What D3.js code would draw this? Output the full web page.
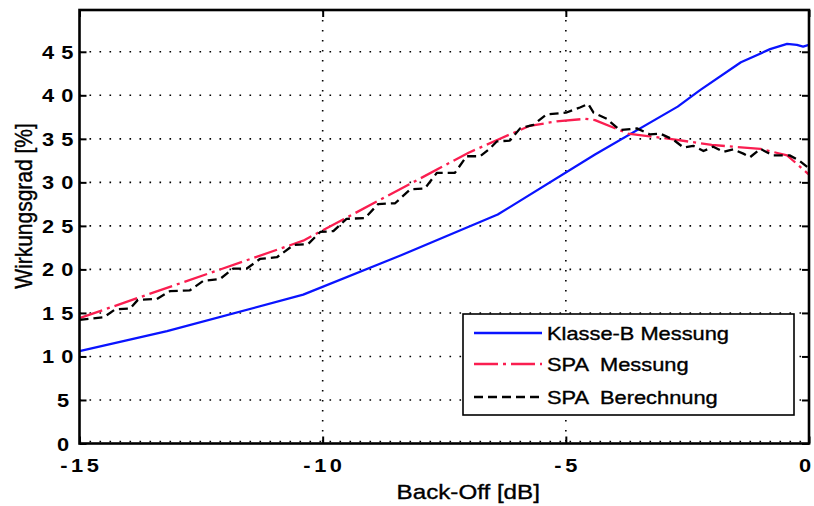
<!DOCTYPE html>
<html>
<head>
<meta charset="utf-8">
<script src="https://cdn.jsdelivr.net/npm/d3@7"></script>
<style>
  html, body { margin: 0; padding: 0; background: #fff; }
  svg { display: block; }
</style>
</head>
<body>
<svg id="chart" width="814" height="506"></svg>
<script>
// Wirkungsgrad über Back-Off: Klasse-B vs. SPA (Messung / Berechnung)
const xTicks = [-15, -10, -5, 0];
const yTicks = [0, 5, 10, 15, 20, 25, 30, 35, 40, 45];

const klasseBX = [-15, -13.2, -10.4, -8.4, -6.4, -4.4, -2.7, -2.24, -1.4, -0.8, -0.45, -0.25, -0.12, 0];
const klasseBY = [10.6, 12.9, 17.1, 21.6, 26.3, 33.2, 38.7, 40.6, 43.8, 45.3, 45.9, 45.8, 45.6, 45.8];

const spaMessX = [-15, -10.4, -7.0, -6.4, -5.74, -5.19, -4.6, -4.4, -3.72, -2.86, -2.0, -1.0, -0.45, 0];
const spaMessY = [14.4, 23.3, 33.4, 34.9, 36.5, 37.0, 37.3, 37.15, 35.6, 35.0, 34.3, 33.85, 33.1, 30.9];

const spaBerX = [-15, -14.5, -14.27, -13.96, -13.8, -13.41, -13.14, -12.73, -12.45, -12.11,
  -11.84, -11.56, -11.29, -10.94, -10.6, -10.3, -10.05, -9.78, -9.51, -9.13,
  -8.86, -8.51, -8.2, -7.9, -7.65, -7.28, -7.04, -6.76, -6.56, -6.42,
  -6.15, -5.94, -5.67, -5.4, -5.0, -4.71, -4.54, -4.43, -4.16, -3.89,
  -3.54, -3.27, -3.06, -2.79, -2.58, -2.38, -2.17, -1.97, -1.76, -1.56,
  -1.35, -1.21, -1.0, -0.75, -0.4, -0.2, 0];
const spaBerY = [14.2, 14.5, 15.4, 15.5, 16.5, 16.6, 17.5, 17.6, 18.7, 18.9,
  20.1, 20.1, 21.2, 21.4, 22.8, 22.9, 24.3, 24.4, 25.8, 25.9,
  27.5, 27.6, 29.2, 29.3, 31.1, 31.1, 33.0, 33.0, 33.9, 34.7,
  34.8, 36.2, 36.6, 37.8, 38.0, 38.6, 39.0, 38.0, 37.3, 36.0,
  36.2, 35.5, 35.6, 34.9, 34.0, 34.2, 33.6, 34.1, 33.5, 33.8,
  33.3, 32.9, 33.85, 33.1, 33.1, 32.5, 31.6];

const seriesNames = ["Klasse-B Messung", "SPA  Messung", "SPA  Berechnung"];
const xLabel = "Back-Off [dB]";
const yLabel = "Wirkungsgrad [%]";

const svg = d3.select("#chart");
const pLeft = 79.5, pRight = 809, pTop = 10, pBottom = 443.5;
const x = d3.scaleLinear().domain([-15, 0]).range([pLeft, pRight]);
const y = d3.scaleLinear().domain([0, 49.8]).range([pBottom, pTop]);
const stretch = 1.18;   // the figure's fonts are drawn horizontally widened
const font = "'Liberation Sans', Arial, Helvetica, sans-serif";

const zip = (xs, ys) => xs.map((v, i) => [v, ys[i]]);
const styles = [
  { color: "#0a14ff", dash: null },
  { color: "#fa1e50", dash: "24,5,3,5" },
  { color: "#000000", dash: "9,5" }
];
const series = [zip(klasseBX, klasseBY), zip(spaMessX, spaMessY), zip(spaBerX, spaBerY)];

// dotted grid
const grid = svg.append("g").attr("stroke", "#000").attr("stroke-width", 1.6)
  .attr("stroke-dasharray", "1.6,8.4");
grid.selectAll("line.h").data(yTicks).join("line").attr("class", "h")
  .attr("x1", pLeft).attr("x2", pRight)
  .attr("y1", d => y(d) - (d === 0 ? 2 : 0)).attr("y2", d => y(d) - (d === 0 ? 2 : 0));
grid.selectAll("line.v").data(xTicks.filter(d => d > -15 && d < 0)).join("line").attr("class", "v")
  .attr("y1", pTop).attr("y2", pBottom)
  .attr("x1", d => x(d)).attr("x2", d => x(d));

// data lines
svg.append("clipPath").attr("id", "plotclip").append("rect")
  .attr("x", pLeft).attr("y", pTop).attr("width", pRight - pLeft).attr("height", pBottom - pTop);
const line = d3.line().x(d => x(d[0])).y(d => y(d[1]));
const lines = svg.append("g").attr("clip-path", "url(#plotclip)");
series.forEach((s, i) => {
  lines.append("path").datum(s).attr("d", line)
    .attr("fill", "none").attr("stroke", styles[i].color).attr("stroke-width", 2.3)
    .attr("stroke-linejoin", "round")
    .attr("stroke-dasharray", styles[i].dash);
});

// inward ticks on all four sides
const tl = 7;
svg.append("g").attr("transform", `translate(${pLeft},0)`)
  .call(d3.axisLeft(y).tickValues(yTicks).tickSize(-tl).tickFormat(""));
svg.append("g").attr("transform", `translate(${pRight},0)`)
  .call(d3.axisRight(y).tickValues(yTicks).tickSize(-tl).tickFormat(""));
svg.append("g").attr("transform", `translate(0,${pBottom})`)
  .call(d3.axisBottom(x).tickValues(xTicks).tickSize(-tl).tickFormat(""));
svg.append("g").attr("transform", `translate(0,${pTop})`)
  .call(d3.axisTop(x).tickValues(xTicks).tickSize(-tl).tickFormat(""));
svg.selectAll(".domain").remove();
svg.selectAll(".tick line").attr("stroke", "#000").attr("stroke-width", 2);

// frame
svg.append("rect").attr("x", pLeft).attr("y", pTop)
  .attr("width", pRight - pLeft).attr("height", pBottom - pTop)
  .attr("fill", "none").attr("stroke", "#000").attr("stroke-width", 2.6);

// tick labels
const yls = 6;
svg.append("g").selectAll("text").data(yTicks).join("text")
  .attr("transform", d => `translate(${72 - String(d).length * 15},${y(d) + 7}) scale(${stretch},1)`)
  .attr("font-family", font).attr("font-weight", "bold").attr("font-size", 18.5)
  .attr("letter-spacing", yls)
  .text(d => d);
const xls = 3;
svg.append("g").selectAll("text").data(xTicks).join("text")
  .attr("transform", d => `translate(${Math.min(x(d), 805) + xls * stretch / 2},${472}) scale(${stretch},1)`)
  .attr("text-anchor", "middle")
  .attr("font-family", font).attr("font-weight", "bold").attr("font-size", 18.5)
  .attr("letter-spacing", xls)
  .text(d => d);

// axis titles
const titleStroke = t => t.attr("stroke", "#000").attr("stroke-width", 0.35);
svg.append("text")
  .attr("transform", `translate(${(pLeft + pRight) / 2 + 24},${499}) scale(${stretch},1)`)
  .attr("text-anchor", "middle").attr("font-family", font).attr("font-size", 20.5)
  .call(titleStroke)
  .text(xLabel);
svg.append("text")
  .attr("transform", `translate(${32},${206}) scale(${stretch},1) rotate(-90)`)
  .attr("text-anchor", "middle").attr("font-family", font).attr("font-size", 21)
  .call(titleStroke)
  .text(yLabel);

// legend
const lg = svg.append("g");
lg.append("rect").attr("x", 463).attr("y", 314).attr("width", 331).attr("height", 101)
  .attr("fill", "#fff").attr("stroke", "#000").attr("stroke-width", 1.6);
const rowY = [333, 364, 397];
seriesNames.forEach((name, i) => {
  lg.append("line").attr("x1", 474).attr("x2", 542).attr("y1", rowY[i]).attr("y2", rowY[i])
    .attr("stroke", styles[i].color).attr("stroke-width", 2.3)
    .attr("stroke-dasharray", styles[i].dash);
  lg.append("text")
    .attr("transform", `translate(547,${rowY[i] + 6.5}) scale(1.2,1)`)
    .attr("font-family", font).attr("font-size", 18.2)
    .call(titleStroke)
    .attr("xml:space", "preserve").style("white-space", "pre")
    .text(name);
});
</script>
</body>
</html>
